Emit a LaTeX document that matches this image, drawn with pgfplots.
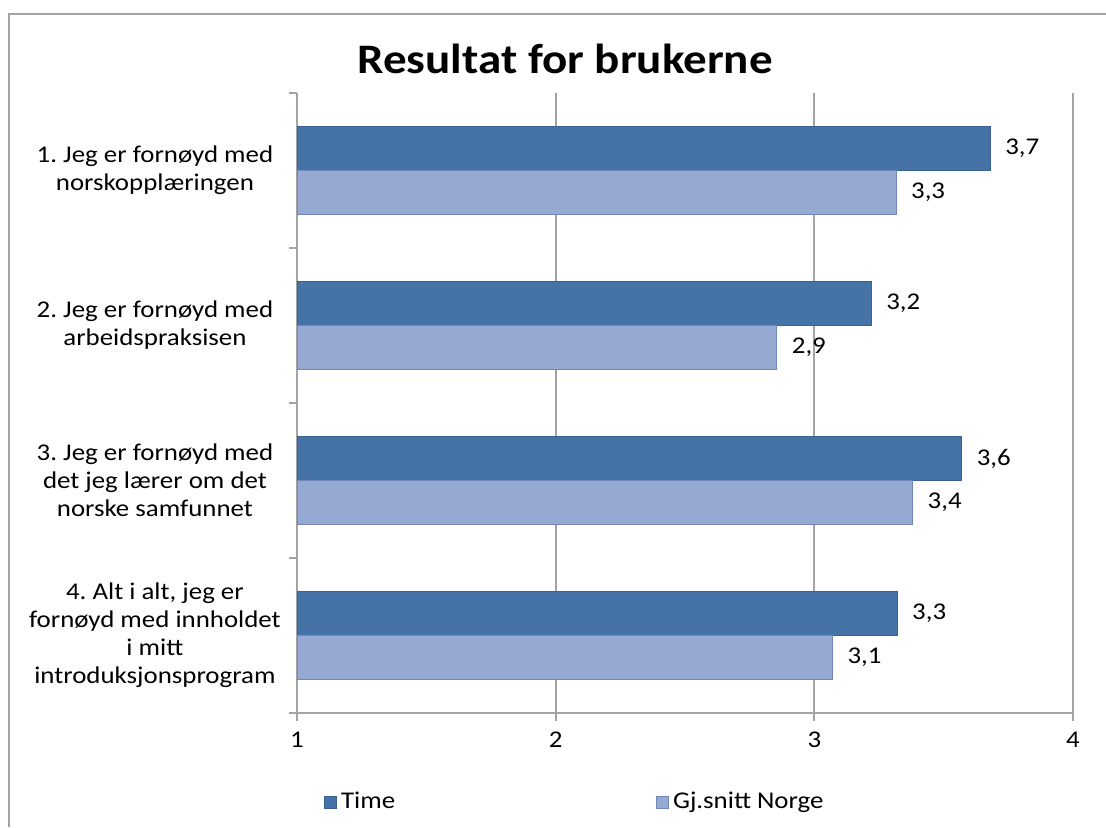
\documentclass[border=0pt]{standalone}
\usepackage{pgfplots}
\pgfplotsset{compat=1.18}
\usepackage{fontspec}
\setmainfont[FakeStretch=1.12]{Carlito}
\frenchspacing
\definecolor{timeblue}{HTML}{4572A7}
\definecolor{timeedge}{HTML}{3A6191}
\definecolor{normblue}{HTML}{95A9D2}
\definecolor{normedge}{HTML}{6F88B8}
\definecolor{linegray}{HTML}{A3A3A3}
\begin{document}
\begin{tikzpicture}
\useasboundingbox (0,0) rectangle (553pt,413.5pt);
\draw[linegray, line width=1pt] (4.5pt,0) -- (4.5pt,406.5pt) -- (553pt,406.5pt);
\node[font=\bfseries\fontsize{21}{25}\selectfont] at (282.5pt,384pt) {Resultat for brukerne};
\begin{axis}[
    at={(148.5pt,57pt)}, anchor=south west,
    width=388pt, height=310pt, scale only axis,
    xbar=0pt, bar width=0.285,
    xmin=1, xmax=4,
    ymin=0.5, ymax=4.5, y dir=reverse,
    xtick={1,2,3,4}, minor xtick={1,2,3,4},
    ytick={1,2,3,4}, minor ytick={0.5,1.5,2.5,3.5,4.5},
    yticklabels={
        {1. Jeg er fornøyd med\\norskopplæringen},
        {2. Jeg er fornøyd med\\arbeidspraksisen},
        {3. Jeg er fornøyd med\\det jeg lærer om det\\norske samfunnet},
        {4. Alt i alt, jeg er\\fornøyd med innholdet\\i mitt\\introduksjonsprogram}},
    major tick length=0pt, minor tick length=4pt, tick align=outside,
    tick style={linegray, line width=1pt},
    axis x line*=bottom, axis y line*=left,
    axis line style={linegray, line width=1pt, -},
    xmajorgrids, grid style={linegray, line width=1pt},
    /pgf/number format/assume math mode=true,
    tick label style={font=\fontsize{12}{14}\selectfont},
    yticklabel style={align=flush center, text width=126pt, xshift=-4.5pt},
    xticklabel style={yshift=-6pt},
    point meta=x,
    nodes near coords,
    nodes near coords style={font=\fontsize{12}{14}\selectfont, xshift=4pt,
        /pgf/number format/.cd, fixed, precision=1, zerofill, use comma, assume math mode=true},
    legend columns=2,
    legend style={at={(0.027,-0.1435)}, anchor=west, draw=none, fill=none,
        font=\fontsize{12}{14}\selectfont,
        /tikz/every even column/.append style={column sep=128.5pt}},
    legend image code/.code={\draw[#1] (0pt,-3pt) rectangle (6pt,3pt);},
]
\addplot[fill=timeblue, draw=timeedge] coordinates {(3.68,1) (3.22,2) (3.57,3) (3.32,4)};
\addplot[fill=normblue, draw=normedge] coordinates {(3.316,1) (2.855,2) (3.38,3) (3.07,4)};
\legend{Time, Gj.snitt Norge}
\end{axis}
\end{tikzpicture}
\end{document}
